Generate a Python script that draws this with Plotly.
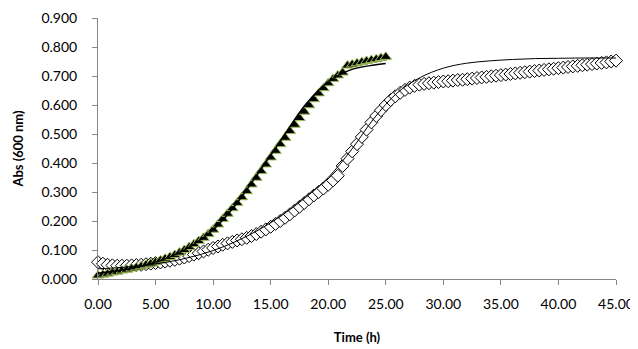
import plotly.graph_objects as go

# Sampling times (h), every 25 min
time_h = [0.00, 0.42, 0.83, 1.25, 1.67, 2.08, 2.50, 2.92, 3.33, 3.75,
          4.17, 4.58, 5.00, 5.42, 5.83, 6.25, 6.67, 7.08, 7.50, 7.92,
          8.33, 8.75, 9.17, 9.58, 10.00, 10.42, 10.83, 11.25, 11.67, 12.08,
          12.50, 12.92, 13.33, 13.75, 14.17, 14.58, 15.00, 15.42, 15.83, 16.25,
          16.67, 17.08, 17.50, 17.92, 18.33, 18.75, 19.17, 19.58, 20.00, 20.42,
          20.83, 21.25, 21.67, 22.08, 22.50, 22.92, 23.33, 23.75, 24.17, 24.58,
          25.00, 25.42, 25.83, 26.25, 26.67, 27.08, 27.50, 27.92, 28.33, 28.75,
          29.17, 29.58, 30.00, 30.42, 30.83, 31.25, 31.67, 32.08, 32.50, 32.92,
          33.33, 33.75, 34.17, 34.58, 35.00, 35.42, 35.83, 36.25, 36.67, 37.08,
          37.50, 37.92, 38.33, 38.75, 39.17, 39.58, 40.00, 40.42, 40.83, 41.25,
          41.67, 42.08, 42.50, 42.92, 43.33, 43.75, 44.17, 44.58, 45.00]

# Triangle series (measured, 0-25 h)
tri_time = time_h[:61]
tri_abs = [0.012, 0.015, 0.018, 0.022, 0.025, 0.029, 0.032, 0.036, 0.040, 0.044,
           0.049, 0.053, 0.058, 0.064, 0.070, 0.076, 0.083, 0.091, 0.100, 0.110,
           0.120, 0.131, 0.142, 0.155, 0.170, 0.188, 0.207, 0.225, 0.244, 0.262,
           0.282, 0.303, 0.326, 0.349, 0.372, 0.395, 0.419, 0.442, 0.465, 0.487,
           0.510, 0.532, 0.555, 0.577, 0.599, 0.620, 0.640, 0.658, 0.675, 0.690,
           0.702, 0.712, 0.736, 0.740, 0.744, 0.748, 0.752, 0.755, 0.758, 0.762,
           0.766]

# Diamond series (measured, 0-45 h)
dia_time = time_h
dia_abs = [0.058, 0.053, 0.049, 0.047, 0.046, 0.046, 0.046, 0.047, 0.048, 0.049,
           0.051, 0.053, 0.055, 0.057, 0.060, 0.063, 0.066, 0.070, 0.074, 0.079,
           0.084, 0.089, 0.095, 0.101, 0.107, 0.112, 0.118, 0.123, 0.128, 0.133,
           0.137, 0.142, 0.148, 0.155, 0.163, 0.171, 0.180, 0.190, 0.200, 0.211,
           0.223, 0.236, 0.249, 0.262, 0.275, 0.288, 0.300, 0.312, 0.325, 0.340,
           0.356, 0.390, 0.415, 0.440, 0.465, 0.490, 0.515, 0.540, 0.562, 0.582,
           0.600, 0.617, 0.630, 0.642, 0.652, 0.660, 0.666, 0.670, 0.673, 0.675,
           0.677, 0.679, 0.681, 0.682, 0.684, 0.686, 0.687, 0.689, 0.691, 0.693,
           0.695, 0.697, 0.699, 0.701, 0.703, 0.705, 0.707, 0.709, 0.711, 0.713,
           0.715, 0.717, 0.719, 0.721, 0.723, 0.725, 0.727, 0.729, 0.731, 0.733,
           0.735, 0.737, 0.739, 0.741, 0.743, 0.745, 0.747, 0.750, 0.753]

# Fitted curves
fit_tri_time = [0, 2, 4, 6, 8, 10, 12, 14, 16, 18, 20, 22, 24, 25]
fit_tri_abs = [0.020, 0.030, 0.047, 0.072, 0.112, 0.170, 0.258, 0.370, 0.485,
               0.600, 0.680, 0.722, 0.738, 0.743]
fit_dia_time = [0, 2, 4, 6, 8, 10, 12, 14, 16, 18, 20, 22, 24, 26, 28, 30, 32,
                34, 36, 38, 40, 42, 45]
fit_dia_abs = [0.035, 0.040, 0.047, 0.058, 0.075, 0.098, 0.130, 0.170, 0.220,
               0.280, 0.350, 0.445, 0.555, 0.642, 0.695, 0.727, 0.744, 0.752,
               0.757, 0.760, 0.761, 0.762, 0.762]

x_ticks = [0, 5, 10, 15, 20, 25, 30, 35, 40, 45]
y_ticks = [0.0, 0.1, 0.2, 0.3, 0.4, 0.5, 0.6, 0.7, 0.8, 0.9]

FONT = "Lato"
AXIS_GREY = "#868686"

fig = go.Figure()
fig.add_trace(go.Scatter(
    x=dia_time, y=dia_abs, mode="markers", cliponaxis=False,
    marker=dict(symbol="diamond", size=10, color="white",
                line=dict(color="black", width=1)),
    showlegend=False))
fig.add_trace(go.Scatter(
    x=tri_time, y=tri_abs, mode="markers", cliponaxis=False,
    marker=dict(symbol="triangle-up", size=10, color="black",
                line=dict(color="#9BBB59", width=1)),
    showlegend=False))
fig.add_trace(go.Scatter(
    x=fit_dia_time, y=fit_dia_abs, mode="lines",
    line=dict(color="black", width=1, shape="spline"), showlegend=False))
fig.add_trace(go.Scatter(
    x=fit_tri_time, y=fit_tri_abs, mode="lines",
    line=dict(color="black", width=1.5, shape="spline"), showlegend=False))

# The page body adds an 8 px margin, so the figure is sized to fill the rest.
fig.update_layout(
    width=630, height=341,
    margin=dict(l=90, r=22, t=10, b=70),
    paper_bgcolor="white", plot_bgcolor="white",
    font=dict(family=FONT, size=14, color="black"),
)
fig.update_xaxes(
    range=[0, 45], tickvals=x_ticks, tickformat=".2f", automargin=False,
    showgrid=False, zeroline=False, showline=True, linecolor=AXIS_GREY,
    linewidth=1, ticks="outside", ticklen=5, tickcolor=AXIS_GREY,
    ticklabelstandoff=7,
    tickfont=dict(family=FONT, size=14),
    title=dict(text="<b>Time (h)</b>", font=dict(family=FONT, size=13),
               standoff=22),
)
fig.update_yaxes(
    range=[0, 0.9], tickvals=y_ticks, tickformat=".3f", automargin=False,
    showgrid=False, zeroline=False, showline=True, linecolor=AXIS_GREY,
    linewidth=1, ticks="outside", ticklen=5, tickcolor=AXIS_GREY,
    ticklabelstandoff=12,
    tickfont=dict(family=FONT, size=14),
    title=dict(text="<b>Abs (600 nm)</b>", font=dict(family=FONT, size=13),
               standoff=14),
)

fig.write_html("out.html")
